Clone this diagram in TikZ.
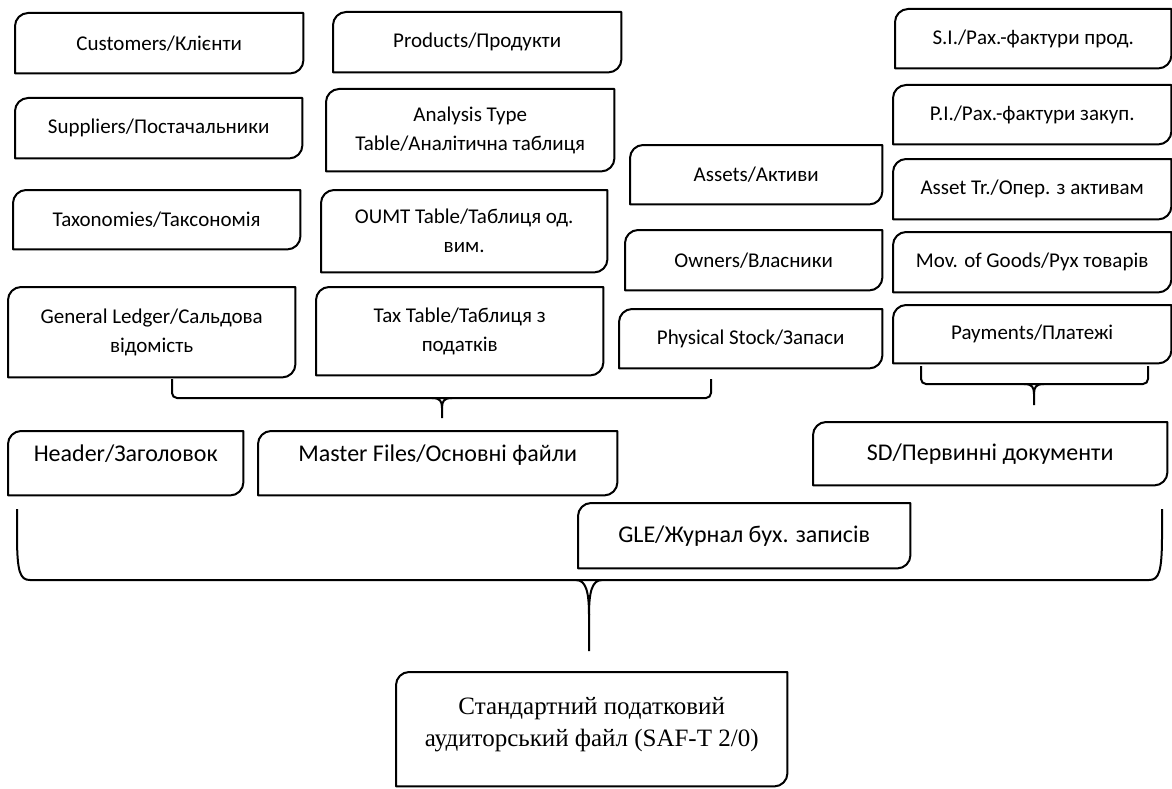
\documentclass[tikz,border=0pt]{standalone}
\usepackage{fontspec}
\setmainfont{Carlito}
\newfontfamily\serifcyr{Liberation Serif}

\begin{document}
\begin{tikzpicture}[x=1pt, y=-1pt,
    docbox/.style={anchor=north west, align=center, inner sep=2pt, font=\fontsize{21}{29}\selectfont},
    bigbox/.style={docbox, font=\fontsize{24}{30}\selectfont},
    outline/.style={line width=2pt, line join=round},
    brace/.style={line width=2pt}]
    \useasboundingbox (0,0) rectangle (1172,789);

    % Master files tables (left two columns)
    \node[docbox, minimum width=288pt, minimum height=60pt] (cust) at (15,13) {Customers/Клієнти};
    \node[docbox, minimum width=287pt, minimum height=60pt] (supp) at (15,98) {Suppliers/Постачальники};
    \node[docbox, minimum width=287pt, minimum height=59pt] (taxo) at (13,190) {Taxonomies/Таксономія};
    \node[docbox, minimum width=287pt, minimum height=90pt] (gl) at (8,287) {General Ledger/Сальдова\\відомість};
    \node[docbox, minimum width=288pt, minimum height=60pt] (prod) at (333,12) {Products/Продукти};
    \node[docbox, minimum width=288pt, minimum height=82pt] (anal) at (326,89) {Analysis Type\\Table/Аналітична таблиця};
    \node[docbox, minimum width=286pt, minimum height=82pt] (oumt) at (321,190) {OUMT Table/Таблиця од.\\вим.};
    \node[docbox, minimum width=287pt, minimum height=88pt] (tax) at (316,287) {Tax Table/Таблиця з\\податків};

    % Master files tables (middle column)
    \node[docbox, minimum width=252pt, minimum height=59pt] (assets) at (630,145) {Assets/Активи};
    \node[docbox, minimum width=257pt, minimum height=60pt] (owners) at (625,230) {Owners/Власники};
    \node[docbox, minimum width=263pt, minimum height=59pt] (phys) at (619,309) {Physical Stock/Запаси};

    % Source documents (right column)
    \node[docbox, minimum width=276pt, minimum height=59pt] (si) at (895,9) {S.I./Рах.-фактури прод.};
    \node[docbox, minimum width=278pt, minimum height=59pt] (pi) at (893,85) {P.I./Рах.-фактури закуп.};
    \node[docbox, minimum width=278pt, minimum height=60pt] (atr) at (893,159) {Asset Tr./Опер. з активам};
    \node[docbox, minimum width=278pt, minimum height=60pt] (mov) at (893,232) {Mov. of Goods/Рух товарів};
    \node[docbox, minimum width=278pt, minimum height=58pt] (pay) at (893,305) {Payments/Платежі};

    % Sections of the file
    \node[bigbox, minimum width=235pt, minimum height=64pt, text depth=20pt] (header) at (8,431) {Header/Заголовок};
    \node[bigbox, minimum width=359pt, minimum height=64pt, text depth=20pt] (master) at (258,431) {Master Files/Основні файли};
    \node[bigbox, minimum width=354pt, minimum height=63pt] (sd) at (813,422) {SD/Первинні документи};
    \node[bigbox, minimum width=332pt, minimum height=65pt] (gle) at (578,503) {GLE/Журнал бух. записів};

    % Whole file
    \node[docbox, minimum width=391pt, minimum height=114pt, text depth=15pt, font=\serifcyr\fontsize{25}{32}\selectfont] (saft) at (396,672) {Стандартний податковий\\аудиторський файл (SAF-T 2/0)};

    % Box outlines: top-left and bottom-right corners rounded
    \foreach \n in {cust,supp,taxo,gl,prod,anal,oumt,tax,assets,owners,phys,si,pi,atr,mov,pay,header,master,sd,gle,saft} {
        \draw[outline] (\n.south west) -- ([yshift=-13pt]\n.north west)
            .. controls ([yshift=-6pt]\n.north west) and ([xshift=6pt]\n.north west) .. ([xshift=13pt]\n.north west)
            -- (\n.north east) -- ([yshift=13pt]\n.south east)
            .. controls ([yshift=6pt]\n.south east) and ([xshift=-6pt]\n.south east) .. ([xshift=-13pt]\n.south east) -- cycle;
    }

    % Bracket: tables -> Master Files
    \coordinate (mfL) at (172,379);
    \coordinate (mfR) at (711,379);
    \coordinate (mfTip) at (442,418);
    \draw[brace, rounded corners=5pt] (mfL) -- (172,398) -- (711,398) -- (mfR);
    \draw[brace] (432,398) .. controls (440,398) and (442,401) .. (442,408) -- (mfTip);
    \draw[brace] (452,398) .. controls (444,398) and (442,401) .. (442,408);

    % Bracket: documents -> SD
    \coordinate (sdL) at (921,366);
    \coordinate (sdR) at (1148,366);
    \coordinate (sdTip) at (1034,405);
    \draw[brace, rounded corners=5pt] (sdL) -- (921,384) -- (1148,384) -- (sdR);
    \draw[brace] (1024,384) .. controls (1032,384) and (1034,387) .. (1034,394) -- (sdTip);
    \draw[brace] (1044,384) .. controls (1036,384) and (1034,387) .. (1034,394);

    % Big bracket: sections -> SAF-T file
    \coordinate (allL) at (17,509);
    \coordinate (allR) at (1162,509);
    \coordinate (allTip) at (589,651);
    \draw[brace] (allL) -- (17,535) .. controls (17,572) and (20,580) .. (30,580) -- (1149,580) .. controls (1159,580) and (1162,572) .. (1162,535) -- (allR);
    \draw[brace] (576,580) .. controls (586,580) and (589,592) .. (589,615) -- (allTip);
    \draw[brace] (602,580) .. controls (592,580) and (589,592) .. (589,615);

\end{tikzpicture}
\end{document}
